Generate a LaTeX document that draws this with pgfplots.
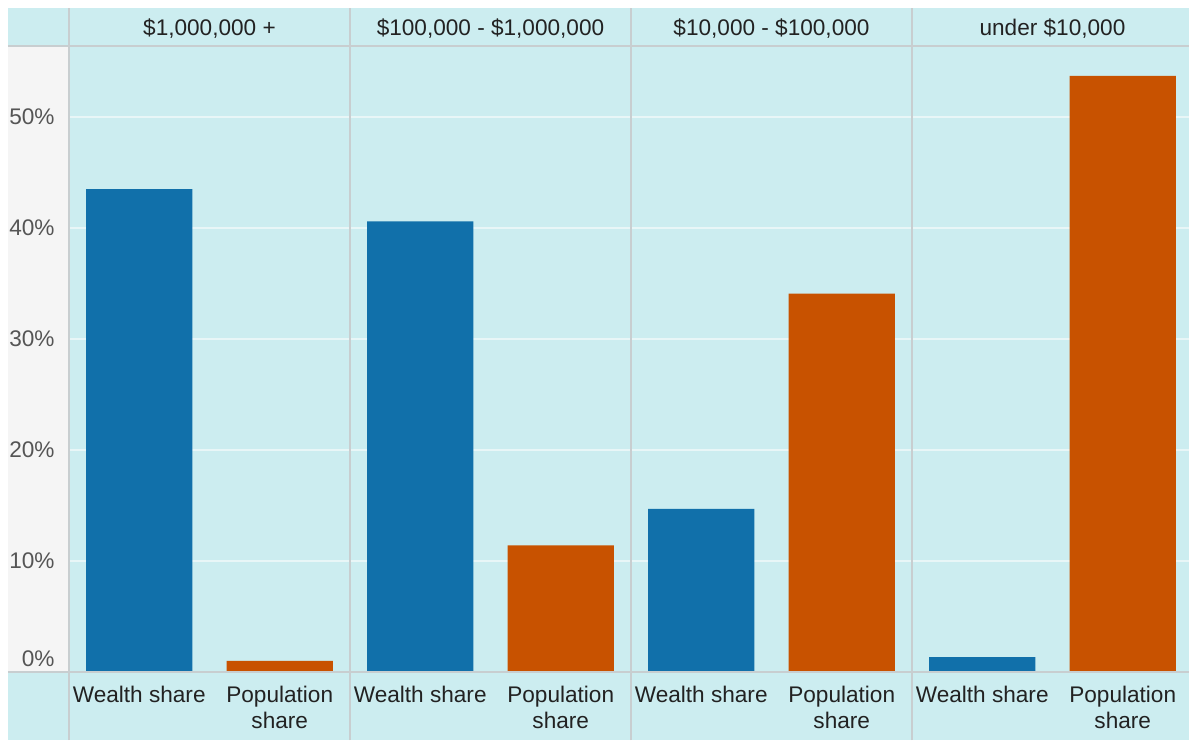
\documentclass[border=0pt]{standalone}
\usepackage{fontspec}
\setmainfont{Liberation Sans}
\usepackage{pgfplots}
\pgfplotsset{compat=1.18}
\definecolor{bgc}{RGB}{204,237,240}
\definecolor{gridc}{RGB}{232,246,247}
\definecolor{linec}{RGB}{200,206,208}
\definecolor{leftc}{RGB}{245,245,245}
\definecolor{wblue}{RGB}{17,112,170}
\definecolor{porange}{RGB}{200,82,0}
\definecolor{tickc}{RGB}{85,85,85}
\definecolor{txtc}{RGB}{34,34,34}
\newcommand{\chf}{\fontsize{11.3}{13}\selectfont}
\begin{document}
\begin{tikzpicture}
\fill[white] (-34.5pt,-34pt) rectangle (560pt,336pt);
\path[use as bounding box] (-34.5pt,-34pt) rectangle (560pt,336pt);
\fill[bgc] (-30.5pt,-34pt) rectangle (560pt,332pt);
\fill[leftc] (-30.5pt,0pt) rectangle (0pt,313pt);
\begin{axis}[
  at={(0pt,0pt)}, anchor=south west,
  scale only axis, width=560pt, height=313pt,
  xmin=0, xmax=3.9858, ymin=0, ymax=56.4,
  axis line style={draw=none},
  tick style={draw=none},
  ytick={10,20,30,40,50},
  yticklabels={10\%,20\%,30\%,40\%,50\%},
  ymajorgrids, grid style={gridc, line width=1pt},
  extra y ticks={1.17}, extra y tick labels={0\%},
  extra y tick style={grid=none},
  yticklabel style={font=\chf, text=tickc, anchor=east, inner sep=0pt, xshift=-7pt},
  xtick={0.25,0.75,1.25,1.75,2.25,2.75,3.25,3.75},
  xticklabels={Wealth share,{Population\\share},Wealth share,{Population\\share},Wealth share,{Population\\share},Wealth share,{Population\\share}},
  xticklabel style={font=\chf, text=txtc, align=center, anchor=north, inner sep=0pt, yshift=-7pt},
  clip=false,
]
\addplot[ybar, bar width=0.378, bar shift=0pt, fill=wblue, draw=none] coordinates {(0.25,43.5) (1.25,40.6) (2.25,14.7) (3.25,1.35)};
\addplot[ybar, bar width=0.378, bar shift=0pt, fill=porange, draw=none] coordinates {(0.75,1.0) (1.75,11.4) (2.75,34.1) (3.75,53.7)};
\node[font=\chf, text=txtc] at (axis cs:0.5,56.4) [yshift=8.5pt] {\$1,000,000 +};
\node[font=\chf, text=txtc] at (axis cs:1.5,56.4) [yshift=8.5pt] {\$100,000 - \$1,000,000};
\node[font=\chf, text=txtc] at (axis cs:2.5,56.4) [yshift=8.5pt] {\$10,000 - \$100,000};
\node[font=\chf, text=txtc] at (axis cs:3.5,56.4) [yshift=8.5pt] {under \$10,000};
\end{axis}
\draw[linec, line width=0.7pt] (-30.5pt,0pt) -- (560pt,0pt);
\draw[linec, line width=0.7pt] (-30.5pt,313pt) -- (560pt,313pt);
\foreach \x in {0,140.5,281,421.5} \draw[linec, line width=0.7pt] (\x pt,-34pt) -- (\x pt,332pt);
\end{tikzpicture}
\end{document}
